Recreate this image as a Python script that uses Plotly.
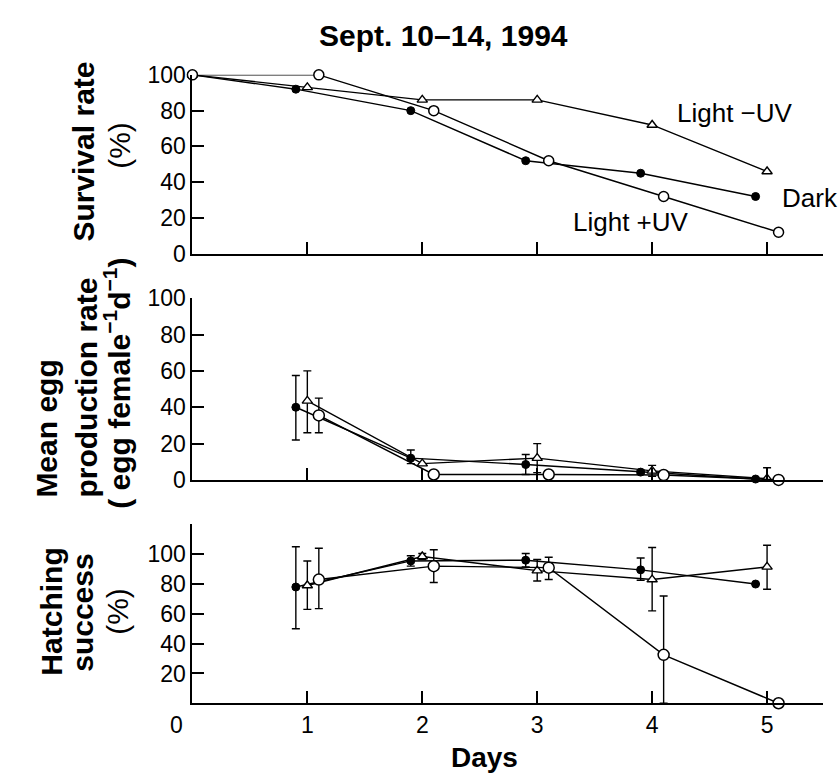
import plotly.graph_objects as go

# ---------------- data ----------------
# Sampling days as plotted (series are staggered around each day)
dark_x = [0, 0.9, 1.9, 2.9, 3.9, 4.9]
lmuv_x = [0, 1.0, 2.0, 3.0, 4.0, 5.0]
lpuv_x = [0, 1.1, 2.1, 3.1, 4.1, 5.1]

# Survival rate (%)
surv_dark = [100, 92, 80, 52, 45, 32]
surv_lmuv = [100, 93, 86, 86, 72, 46]
surv_lpuv = [100, 100, 80, 52, 32, 12]

# Mean egg production rate (egg female^-1 d^-1), days 1-5
egg_dark = [40, 12, 8.5, 4.3, 0.5]
egg_dark_up = [17.5, 4.5, 5.5, 1, 0]
egg_dark_dn = [18, 3, 5.5, 1, 0]
egg_lmuv = [43.5, 9, 12, 5, 0.7]
egg_lmuv_up = [16.5, 0, 8, 3, 6]
egg_lmuv_dn = [17.5, 0, 8, 3, 0]
egg_lpuv = [35.5, 3, 3, 2.7, 0]
egg_lpuv_up = [9.5, 0, 1.5, 0, 0]
egg_lpuv_dn = [9.5, 0, 1.5, 0, 0]

# Hatching success (%), days 1-5
hat_dark = [78, 95.5, 96, 89.5, 80]
hat_dark_up = [27, 3.5, 4.5, 8, 0]
hat_dark_dn = [28, 3.5, 4.5, 7, 0]
hat_lmuv = [79, 98.5, 89, 83, 91.5]
hat_lmuv_up = [16.5, 2, 7.5, 21.5, 14.5]
hat_lmuv_dn = [16, 2, 7, 21, 15]
hat_lpuv = [83, 92, 91, 32.5, 0]
hat_lpuv_up = [21, 11, 7, 39.5, 0]
hat_lpuv_dn = [19.5, 11, 8, 32.5, 0]

day_ticks = [0, 1, 2, 3, 4, 5]
pct_ticks = [0, 20, 40, 60, 80, 100]
hat_ticks = [20, 40, 60, 80, 100]

# ---------------- styling ----------------
W, H = 838, 782
FONT = "Liberation Sans, Arial, Helvetica, sans-serif"


def fx(p):
    return p / W


def fy(p):
    return 1 - p / H


STYLE = {
    "Dark": dict(symbol="circle", size=8, color="black",
                 line=dict(color="black", width=1)),
    "Light −UV": dict(symbol="triangle-up", size=9, color="white",
                      line=dict(color="black", width=1.4)),
    "Light +UV": dict(symbol="circle", size=11, color="white",
                      line=dict(color="black", width=1.5)),
}

fig = go.Figure()


def add(name, x, y, ax, up=None, dn=None, msize=None):
    marker = dict(STYLE[name])
    if msize:
        marker["size"] = msize
    err = None
    if up is not None:
        err = dict(type="data", symmetric=False, array=up, arrayminus=dn,
                   color="black", thickness=1.4, width=4)
    fig.add_trace(go.Scatter(
        x=x, y=y, mode="lines+markers", name=name,
        line=dict(color="black", width=1.4),
        marker=marker, error_y=err, cliponaxis=False,
        xaxis="x" + ax, yaxis="y" + ax, showlegend=False))


# Survival panel
add("Dark", dark_x, surv_dark, "")
add("Light −UV", lmuv_x, surv_lmuv, "")
add("Light +UV", lpuv_x, surv_lpuv, "", msize=10)

# Egg production panel
add("Dark", dark_x[1:], egg_dark, "2", egg_dark_up, egg_dark_dn)
add("Light −UV", lmuv_x[1:], egg_lmuv, "2", egg_lmuv_up, egg_lmuv_dn)
add("Light +UV", lpuv_x[1:], egg_lpuv, "2", egg_lpuv_up, egg_lpuv_dn)

# Hatching panel
add("Dark", dark_x[1:], hat_dark, "3", hat_dark_up, hat_dark_dn)
add("Light −UV", lmuv_x[1:], hat_lmuv, "3", hat_lmuv_up, hat_lmuv_dn)
add("Light +UV", lpuv_x[1:], hat_lpuv, "3", hat_lpuv_up, hat_lpuv_dn)

xdom = [fx(175), fx(823)]
xrange = [0, 5.49]
axis_common = dict(showline=True, linecolor="black", linewidth=2,
                   ticks="inside", ticklen=12, tickwidth=1.5,
                   tickcolor="black", showgrid=False, zeroline=False,
                   tickfont=dict(family=FONT, size=23, color="black"))

ydoms = {
    "": [fy(249), fy(64)],
    "2": [fy(483), fy(295)],
    "3": [fy(714), fy(529)],
}

layout = dict(
    width=W, height=H, margin=dict(l=0, r=0, t=0, b=0),
    paper_bgcolor="white", plot_bgcolor="white",
    font=dict(family=FONT, color="black"),
)

for ax in ["", "2", "3"]:
    xa = dict(axis_common, domain=xdom, range=xrange, anchor="y" + ax,
              tickvals=day_ticks[1:], showticklabels=False)
    if ax == "3":
        xa.update(tickvals=day_ticks,
                  ticktext=["0" + "\u00a0" * 5] + [str(d) for d in day_ticks[1:]],
                  showticklabels=True)
    if ax == "":
        ya = dict(axis_common, domain=ydoms[ax], range=[0, 100],
                  tickvals=pct_ticks, anchor="x")
    elif ax == "2":
        ya = dict(axis_common, domain=ydoms[ax], range=[0, 100],
                  tickvals=pct_ticks, anchor="x2")
    else:
        ya = dict(axis_common, domain=ydoms[ax], range=[0, 120],
                  tickvals=hat_ticks, anchor="x3",
                  minor=dict(ticks="inside", ticklen=12, tickwidth=1.5,
                             tickcolor="black", tick0=0, dtick=120,
                             showgrid=False))
    layout["xaxis" + ax] = xa
    layout["yaxis" + ax] = ya

fig.update_layout(**layout)


def note(text, x, y, size, angle=0, xanchor="center", yanchor="middle"):
    fig.add_annotation(text=text, x=fx(x), y=fy(y), xref="paper", yref="paper",
                       showarrow=False, textangle=angle, xanchor=xanchor,
                       yanchor=yanchor,
                       font=dict(family=FONT, size=size, color="black"))


# Title
note("<b>Sept. 10–14, 1994</b>", 433, 23, 30)

# Series labels in the survival panel
note("Light −UV", 732, 103, 26)
note("Dark", 778, 191, 26, xanchor="left")
note("Light +UV", 625, 216, 26)

# Y-axis titles
note("<b>Survival rate</b>", 63, 143, 30, angle=-90)
note("(%)", 100, 137, 30, angle=-90)

note("<b>Mean egg</b>", 25, 503, 30, angle=-90, yanchor="bottom")
note("<b>production rate</b>", 66, 503, 30, angle=-90, yanchor="bottom")
note("<b>( egg female<sup>−1</sup>d<sup>−1</sup>)</b>", 98, 515, 30,
     angle=-90, yanchor="bottom")

note("<b>Hatching</b>", 30, 619, 30, angle=-90)
note("<b>success</b>", 62, 620, 30, angle=-90)
note("(%)", 98, 619, 30, angle=-90)

# X-axis title
note("<b>Days</b>", 475, 770, 28)

fig.write_html("out.html")
